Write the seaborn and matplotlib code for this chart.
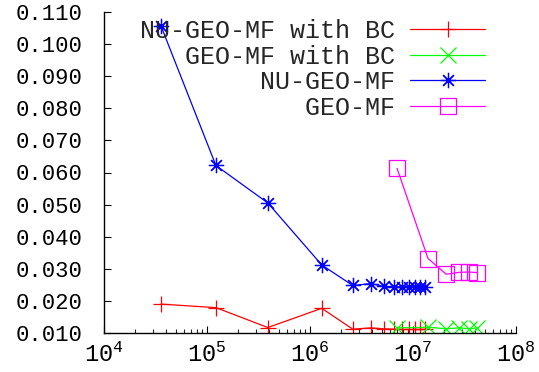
import numpy as np
import pandas as pd
import matplotlib
matplotlib.use("Agg")
import matplotlib.pyplot as plt
import seaborn as sns
from matplotlib.ticker import LogLocator, LogFormatterMathtext, FixedLocator

# data
nu_x = [3.57e4, 1.22e5, 3.9e5, 1.3e6, 2.6e6, 3.9e6, 5.2e6, 6.5e6, 7.8e6, 9.1e6, 1.04e7, 1.17e7, 1.3e7]
nu_bc_y = [0.0190, 0.0179, 0.0117, 0.0177, 0.0112, 0.0116, 0.0113, 0.0112, 0.0111, 0.0111, 0.0111, 0.0111, 0.0111]
nu_y = [0.1057, 0.0622, 0.0505, 0.0312, 0.0248, 0.0254, 0.0245, 0.0244, 0.0244, 0.0244, 0.0244, 0.0244, 0.0244]
geo_x = [7.0e6, 1.4e7, 2.1e7, 2.8e7, 3.5e7, 4.2e7]
geo_bc_y = [0.0116, 0.0118, 0.0113, 0.0116, 0.0113, 0.0116]
geo_y = [0.0613, 0.0332, 0.0283, 0.0289, 0.0290, 0.0288]
y_ticks = [0.010, 0.020, 0.030, 0.040, 0.050, 0.060, 0.070, 0.080, 0.090, 0.100, 0.110]

series = [
    ("NU-GEO-MF with BC", nu_x, nu_bc_y, "#ff0000", "+"),
    ("GEO-MF with BC", geo_x, geo_bc_y, "#00ff00", "x"),
    ("NU-GEO-MF", nu_x, nu_y, "#0000ff", (8, 2, 0)),
    ("GEO-MF", geo_x, geo_y, "#ff00ff", "s"),
]

sns.set_style("ticks")
plt.rcParams['font.family'] = ['Liberation Mono', 'DejaVu Sans Mono']
plt.rcParams['font.size'] = 16

fig = plt.figure(figsize=(5.39, 3.72), dpi=100)
ax = fig.add_axes([104 / 539, 1 - 333 / 372, 412 / 539, 321 / 372])

# monospace font: pad names on the left so the legend reads right-aligned
width = max(len(s[0]) for s in series)
for name, xs, ys, col, mk in series:
    df = pd.DataFrame({"x": xs, "y": ys})
    sns.lineplot(data=df, x="x", y="y", ax=ax, color=col, marker=mk, sort=False,
                 linewidth=0.9, markersize=11, markeredgewidth=0.9,
                 markeredgecolor=col, markerfacecolor=("none" if mk == "s" else col),
                 label=name.rjust(width))

ax.set_xscale("log")
ax.set_xlim(1e4, 1e8)
ax.set_ylim(0.010, 0.110)
ax.yaxis.set_major_locator(FixedLocator(y_ticks))
ax.set_yticklabels([f"{v:.3f}" for v in y_ticks])
ax.xaxis.set_major_locator(LogLocator(base=10))
ax.xaxis.set_major_formatter(LogFormatterMathtext())
ax.xaxis.set_minor_locator(LogLocator(base=10, subs=np.arange(2, 10)))
ax.set_xlabel("")
ax.set_ylabel("")

for s in ["top", "right"]:
    ax.spines[s].set_visible(False)
for s in ["left", "bottom"]:
    ax.spines[s].set_linewidth(1.0)
    ax.spines[s].set_color("black")
ax.tick_params(axis="y", which="major", direction="in", length=5, width=0.8,
               labelsize=16, colors="black", pad=15.5)
ax.tick_params(axis="x", which="major", direction="in", length=5, width=0.8,
               labelsize=17, colors="black", pad=7)
ax.tick_params(axis="x", which="minor", direction="in", length=3, width=0.8)
ax.tick_params(axis="y", which="minor", left=False)

ax.legend(loc="upper right", bbox_to_anchor=(0.925, 0.978), frameon=False,
          markerfirst=False, handlelength=3.0, handletextpad=0.6, fontsize=18,
          labelspacing=0.06, borderaxespad=0.0, borderpad=0.0)

fig.savefig("out.png", dpi=100)
